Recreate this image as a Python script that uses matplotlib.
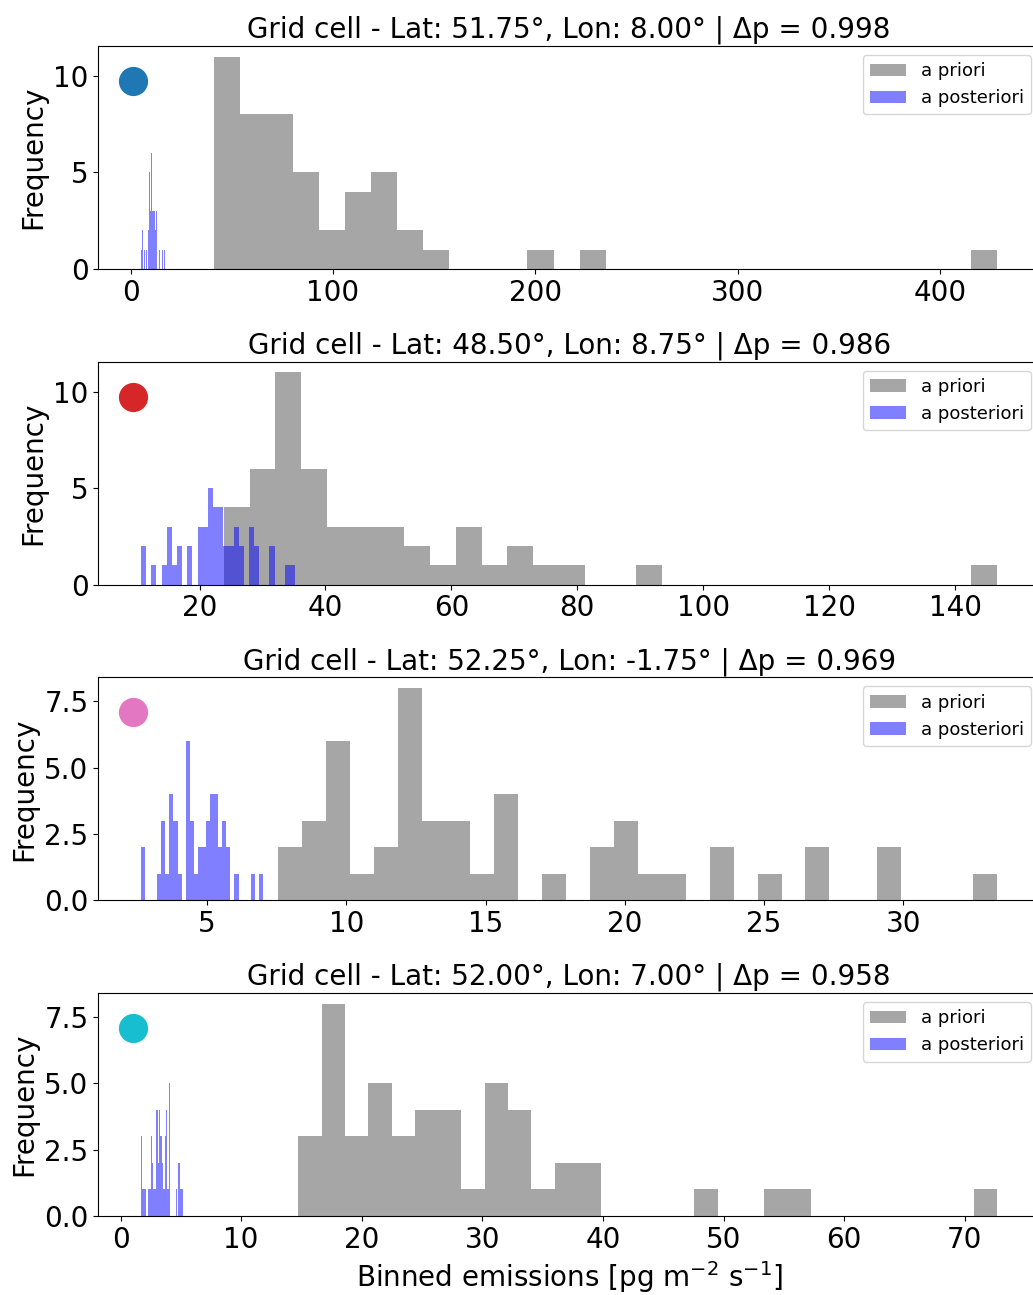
import numpy as np
import matplotlib
matplotlib.use("Agg")
import matplotlib.pyplot as plt

plt.rcParams['font.family'] = ['DejaVu Sans']
plt.rcParams['font.size'] = 20

titles = [
    "Grid cell - Lat: 51.75°, Lon: 8.00° | Δp = 0.998",
    "Grid cell - Lat: 48.50°, Lon: 8.75° | Δp = 0.986",
    "Grid cell - Lat: 52.25°, Lon: -1.75° | Δp = 0.969",
    "Grid cell - Lat: 52.00°, Lon: 7.00° | Δp = 0.958",
]
dot_colors = ["#1f77b4", "#d62728", "#e377c2", "#17becf"]

# a priori histograms: (min, max) of the binned range and 30 bin counts
prior_range_1 = (41.3, 428.1)
prior_counts_1 = [11, 8, 8, 5, 2, 4, 5, 2, 1, 0, 0, 0, 1, 0, 1,
                  0, 0, 0, 0, 0, 0, 0, 0, 0, 0, 0, 0, 0, 0, 1]
post_range_1 = (5.1, 16.8)
post_counts_1 = [1, 2, 2, 0, 1, 0, 1, 1, 0, 2, 5, 2, 3, 6, 3,
                 3, 4, 3, 2, 3, 0, 1, 0, 1, 0, 1, 0, 1, 0, 1]

prior_range_2 = (23.86, 146.7)
prior_counts_2 = [4, 6, 11, 6, 3, 3, 3, 2, 1, 3, 1, 2, 1, 1, 0,
                  0, 1, 0, 0, 0, 0, 0, 0, 0, 0, 0, 0, 0, 0, 1]
post_range_2 = (10.7, 35.2)
post_counts_2 = [2, 0, 1, 0, 1, 3, 1, 2, 0, 2, 0, 3, 3, 5, 4,
                 4, 2, 2, 3, 2, 0, 3, 2, 0, 0, 2, 0, 0, 1, 1]

prior_range_3 = (7.56, 33.37)
prior_counts_3 = [2, 3, 6, 1, 2, 8, 3, 3, 1, 4, 0, 1, 0, 2, 3,
                  1, 1, 0, 2, 0, 1, 0, 2, 0, 0, 2, 0, 0, 0, 1]
post_range_3 = (2.63, 7.01)
post_counts_3 = [2, 0, 0, 0, 1, 3, 1, 4, 3, 1, 0, 6, 3, 1, 2,
                 2, 3, 4, 4, 2, 3, 2, 0, 1, 0, 0, 0, 1, 0, 1]

prior_range_4 = (14.75, 72.69)
prior_counts_4 = [3, 8, 3, 5, 3, 4, 4, 1, 5, 4, 1, 2, 2, 0, 0,
                  0, 0, 1, 0, 0, 1, 1, 0, 0, 0, 0, 0, 0, 0, 1]
post_range_4 = (1.69, 5.14)
post_counts_4 = [3, 1, 1, 1, 0, 1, 1, 3, 2, 1, 1, 4, 2, 4, 3,
                 2, 1, 3, 4, 1, 5, 0, 0, 0, 0, 1, 0, 2, 1, 1]

panels = [
    (prior_range_1, prior_counts_1, post_range_1, post_counts_1),
    (prior_range_2, prior_counts_2, post_range_2, post_counts_2),
    (prior_range_3, prior_counts_3, post_range_3, post_counts_3),
    (prior_range_4, prior_counts_4, post_range_4, post_counts_4),
]

fig, axes = plt.subplots(4, 1, figsize=(10.33, 12.95), dpi=100)
fig.subplots_adjust(left=0.095, right=1.0068, top=0.9645, bottom=0.061, hspace=0.417)

for i, (ax, (pr, pc, qr, qc)) in enumerate(zip(axes, panels)):
    pe = np.linspace(pr[0], pr[1], len(pc) + 1)
    qe = np.linspace(qr[0], qr[1], len(qc) + 1)
    ax.hist(0.5 * (pe[:-1] + pe[1:]), bins=pe, weights=pc,
            color="gray", alpha=0.7, label="a priori")
    ax.hist(0.5 * (qe[:-1] + qe[1:]), bins=qe, weights=qc,
            color="blue", alpha=0.5, label="a posteriori")
    ax.plot(0.0372, 0.843, "o", color=dot_colors[i], markersize=20,
            transform=ax.transAxes)
    ax.set_title(titles[i], fontsize=20)
    ax.set_ylabel("Frequency", fontsize=20)
    ax.tick_params(labelsize=20)
    ax.legend(loc="upper right", fontsize=13)

axes[-1].set_xlabel(r"Binned emissions [pg m$^{-2}$ s$^{-1}$]", fontsize=20)

fig.savefig("out.png", dpi=100)
